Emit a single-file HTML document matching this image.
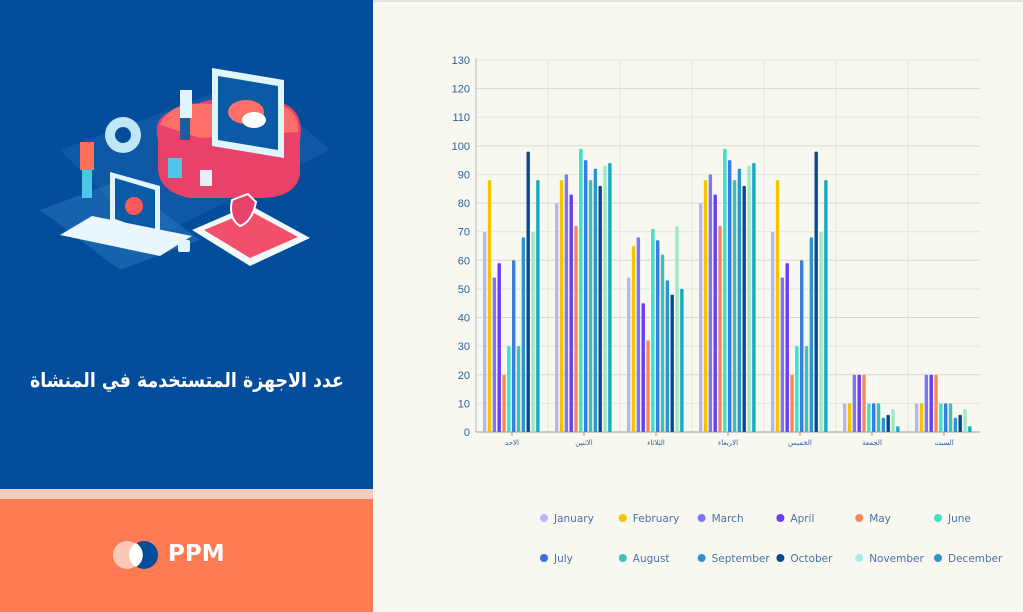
<!DOCTYPE html>
<html><head><meta charset="utf-8"><style>
html,body{margin:0;padding:0;width:1023px;height:612px;overflow:hidden;background:#f8f7f0;font-family:"Liberation Sans",sans-serif}
#left{position:absolute;left:0;top:0;width:373px;height:612px}
#blue{position:absolute;left:0;top:0;width:373px;height:489px;background:#034d9a}
#stripe{position:absolute;left:0;top:489px;width:373px;height:10px;background:#f9cdbc}
#orange{position:absolute;left:0;top:499px;width:373px;height:113px;background:#ff7a52}
#title{position:absolute;left:0;width:373px;top:368px;text-align:center;color:#fff;font:bold 20px "DejaVu Sans","Noto Sans CJK SC",sans-serif;direction:rtl;white-space:nowrap;transform:scaleX(0.87);transform-origin:190px 50%}
#ppm{position:absolute;left:168px;top:541px;color:#fff;font:bold 23px "DejaVu Sans",sans-serif}
#topline{position:absolute;left:373px;top:0;width:650px;height:2px;background:#e2e3df}
#chart{position:absolute;left:0;top:0}
</style></head><body>
<div id="left">
<div id="blue">
<svg width="373" height="300">
<polygon points="60,150 250,80 330,150 150,240" fill="#1a63b0" opacity="0.55"/>
<polygon points="40,210 120,180 200,240 120,270" fill="#2f7cc4" opacity="0.45"/>
<path d="M158 140 Q150 110 190 108 Q210 95 240 100 L280 102 Q305 110 300 140 L300 175 Q295 198 260 198 L190 198 Q160 192 158 170Z" fill="#e8416a"/>
<path d="M160 125 Q170 100 210 104 L280 105 Q300 112 298 132 L200 138Z" fill="#ff6f6a"/>
<polygon points="212,68 284,80 284,158 212,146" fill="#dff4fb"/>
<polygon points="218,76 278,86 278,150 218,140" fill="#0b5aa6"/>
<ellipse cx="246" cy="112" rx="18" ry="12" fill="#ff6f6a"/>
<ellipse cx="254" cy="120" rx="12" ry="8" fill="#fff"/>
<polygon points="110,172 160,186 160,240 110,224" fill="#dff4fb"/>
<polygon points="115,178 155,190 155,233 115,219" fill="#0b5aa6"/>
<circle cx="134" cy="206" r="9" fill="#ff5a5a"/>
<polygon points="60,235 160,256 192,236 92,216" fill="#eaf6fb"/>
<polygon points="192,230 250,205 310,238 250,266" fill="#f3f8fb"/>
<polygon points="204,230 250,211 298,237 250,258" fill="#f2506a"/>
<path d="M232 200 L248 194 L256 202 Q252 222 240 226 Q228 218 232 200Z" fill="#e8416a" stroke="#fff" stroke-width="2"/>
<circle cx="123" cy="135" r="18" fill="#bfe7f5"/><circle cx="123" cy="135" r="8" fill="#034d9a"/>
<rect x="80" y="142" width="14" height="28" fill="#ff6f5a"/><rect x="82" y="170" width="10" height="28" fill="#4ec6ea"/>
<rect x="180" y="90" width="12" height="28" fill="#dff4fb"/><rect x="180" y="118" width="10" height="22" fill="#1b5e9c"/>
<rect x="200" y="170" width="12" height="16" fill="#e8eef5"/><rect x="168" y="158" width="14" height="20" fill="#4ec6ea"/>
<rect x="178" y="240" width="12" height="12" rx="2" fill="#dff4fb"/>
</svg>
<div id="title">عدد الاجهزة المتستخدمة في المنشاة</div>
</div>
<div id="stripe"></div>
<div id="orange">
<svg style="position:absolute;left:112px;top:40px" width="50" height="32">
<circle cx="15" cy="16" r="14" fill="#fcc9b8"/><circle cx="32" cy="16" r="14" fill="#034d9a"/>
<path d="M24 4 A14 14 0 0 1 24 28 A14 14 0 0 1 24 4Z" fill="#fff"/>
</svg>
</div>
<div id="ppm">PPM</div>
</div>
<div id="topline"></div>
<svg id="chart" width="1023" height="612"></svg>
<script>
const categories=["الاحد","الاثنين","الثلاثاء","الاربعاء","الخميس","الجمعة","السبت"];
const months=["January","February","March","April","May","June","July","August","September","October","November","December"];
const colors=["#b9b5f8","#f5c400","#7c78f5","#6a3cf5","#f4895a","#3fe0c8","#3a7de0","#3ec2b8","#2e95cc","#0a4a91","#9ee8c8","#10adc4"];
const legendColors=["#b9b5f8","#f5c400","#7c78f5","#6a3cf5","#f4895a","#3fe0c8","#3a6fe0","#3ec2b8","#2e95cc","#0a4a91","#a8ecea","#2e95cc"];
const jan=[70,80,54,80,70,10,10];
const feb=[88,88,65,88,88,10,10];
const mar=[54,90,68,90,54,20,20];
const apr=[59,83,45,83,59,20,20];
const may=[20,72,32,72,20,20,20];
const jun=[30,99,71,99,30,10,10];
const jul=[60,95,67,95,60,10,10];
const aug=[30,88,62,88,30,10,10];
const sep=[68,92,53,92,68,5,5];
const oct=[98,86,48,86,98,6,6];
const nov=[70,93,72,93,70,8,8];
const dec=[88,94,50,94,88,2,2];
const series=[jan,feb,mar,apr,may,jun,jul,aug,sep,oct,nov,dec];
const yTicks=[0,10,20,30,40,50,60,70,80,90,100,110,120,130];
const NS="http://www.w3.org/2000/svg";
const svg=document.getElementById('chart');
const X0=476,X1=980,Y0=432,Y1=60,YMAX=130;
const y=v=>Y0-(v/YMAX)*(Y0-Y1);
const band=(X1-X0)/categories.length;
const xCat=i=>X0+i*band;
function mk(t,a){const e=document.createElementNS(NS,t);for(const k in a)e.setAttribute(k,a[k]);svg.appendChild(e);return e;}
yTicks.forEach(t=>{
 const g=mk('line',{x1:X0,x2:X1,y1:y(t),y2:y(t),stroke:t%20===0?'#d8d8d2':'#e6e6e0','stroke-width':1});
 
 
 const l=mk('text',{x:470,y:y(t)+4,'text-anchor':'end','font-size':11,fill:'#2f5fa0','font-family':'Liberation Sans, sans-serif'});
 l.textContent=t;
 
 
});
for(let i=1;i<categories.length;i++){
 const v=mk('line',{x1:xCat(i),x2:xCat(i),y1:Y1,y2:Y0,stroke:'#e6e6e0'});
 
 
}
const ax=mk('line',{x1:X0,x2:X0,y1:Y1-2,y2:Y0,stroke:'#bbb'});


const bx=mk('line',{x1:X0,x2:X1,y1:Y0,y2:Y0,stroke:'#999'});


const pad=7,step=(band-2*pad)/12,bw=3.4;
categories.forEach((c,i)=>{
 series.forEach((s,j)=>{
  const bx0=xCat(i)+pad+j*step;
  const r=mk('rect',{x:bx0,y:y(s[i]),width:bw,height:Y0-y(s[i]),fill:colors[j],rx:1});
  
  
 });
 const cx=xCat(i)+band/2;
 const tk=mk('line',{x1:cx,x2:cx,y1:Y0,y2:Y0+4,stroke:'#999'});
 
 
 const t=mk('text',{x:cx,y:Y0+13,'text-anchor':'middle','font-size':7,fill:'#2f5fa0','font-family':'DejaVu Sans, sans-serif'});
 t.textContent=c;
 
 
});
months.forEach((m,j)=>{
 const col=j%6,row=Math.floor(j/6);
 const cx=544+col*78.8,cy=518+row*40;
 const c=mk('circle',{cx:cx,cy:cy,r:4,fill:legendColors[j]});
 
 
 const t=mk('text',{x:cx+10,y:cy+4,'font-size':10.5,fill:'#4a72a8','font-family':'DejaVu Sans, sans-serif'});
 t.textContent=m;
 
 
});
</script>
</body></html>
